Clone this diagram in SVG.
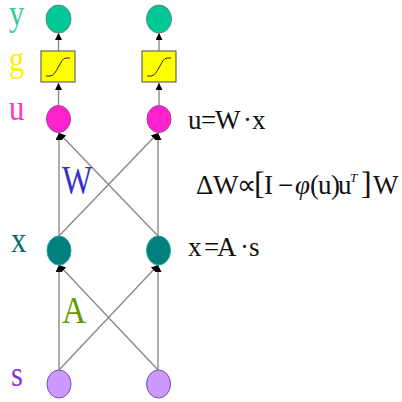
<svg xmlns="http://www.w3.org/2000/svg" width="402" height="402" viewBox="0 0 402 402">
<defs>
<marker id="ah" viewBox="0 0 10 10" refX="10" refY="5" markerWidth="7" markerHeight="7" orient="auto" markerUnits="userSpaceOnUse">
<path d="M0,0 L10,5 L0,10 z" fill="#000"/>
</marker>
<style>
.ln{stroke:#8a8a8a;stroke-width:1.4;fill:none;marker-end:url(#ah)}
.lbl{font-family:"Liberation Serif","Times New Roman",serif;font-size:36px}
.eq{font-family:"Liberation Serif","Times New Roman",serif;font-size:27px;fill:#111}
.ny{fill:#00c896;stroke:#5a8a7a;stroke-width:1}
.nu{fill:#ff22cc;stroke:#a04090;stroke-width:1}
.nx{fill:#007f7f;stroke:#2aa0a0;stroke-width:1}
.ns{fill:#cc99ff;stroke:#7a4aaa;stroke-width:1}
.box{fill:#ffff00;stroke:#666;stroke-width:1.2}
.sig{fill:none;stroke:#222;stroke-width:1}
</style>
</defs>
<rect width="402" height="402" fill="#fff"/>
<g id="connectors">
<line class="ln" x1="59" y1="370" x2="59" y2="265"/>
<line class="ln" x1="59" y1="370" x2="158" y2="265"/>
<line class="ln" x1="158" y1="370" x2="59" y2="265"/>
<line class="ln" x1="158" y1="370" x2="158" y2="265"/>
<line class="ln" x1="59" y1="236" x2="59" y2="133"/>
<line class="ln" x1="59" y1="236" x2="158" y2="133"/>
<line class="ln" x1="158" y1="236" x2="59" y2="133"/>
<line class="ln" x1="158" y1="236" x2="158" y2="133"/>
<line class="ln" x1="58.5" y1="105" x2="58.5" y2="83"/>
<line class="ln" x1="159" y1="105" x2="159" y2="83"/>
<line class="ln" x1="58.5" y1="51" x2="58.5" y2="33"/>
<line class="ln" x1="159" y1="51" x2="159" y2="33"/>
</g>
<g id="y1"><ellipse class="ny" cx="58.5" cy="19" rx="12.5" ry="14"/></g>
<g id="y2"><ellipse class="ny" cx="159" cy="19" rx="12.5" ry="14"/></g>
<g id="g1"><rect class="box" x="41" y="51" width="34" height="31"/><path class="sig" d="M46,76 L50,76 C57,76 60,58 66,58 L70,58"/></g>
<g id="g2"><rect class="box" x="142" y="51" width="34" height="31"/><path class="sig" d="M147,76 L151,76 C158,76 161,58 167,58 L171,58"/></g>
<g id="u1"><ellipse class="nu" cx="58.5" cy="119" rx="12" ry="13.5"/></g>
<g id="u2"><ellipse class="nu" cx="159" cy="119" rx="12" ry="13.5"/></g>
<g id="x1"><ellipse class="nx" cx="59" cy="250.5" rx="12" ry="14.5"/></g>
<g id="x2"><ellipse class="nx" cx="158.5" cy="250.5" rx="12" ry="14.5"/></g>
<g id="s1"><ellipse class="ns" cx="59" cy="384" rx="12" ry="14"/></g>
<g id="s2"><ellipse class="ns" cx="158.5" cy="384" rx="12" ry="14"/></g>
<g id="labels">
<text class="lbl" fill="#33cc99" transform="translate(9,25) scale(0.85,1)">y</text>
<text class="lbl" fill="#ffee00" transform="translate(9,71) scale(0.85,1)">g</text>
<text class="lbl" fill="#ff33cc" transform="translate(9,120) scale(0.85,1)">u</text>
<text class="lbl" fill="#006b6b" transform="translate(11,252) scale(0.85,1)">x</text>
<text class="lbl" fill="#8833cc" transform="translate(11,386) scale(0.85,1)">s</text>
<text class="lbl" fill="#3333cc" style="font-size:40px" transform="translate(62,193) scale(0.8,1)">W</text>
<text class="lbl" fill="#669900" style="font-size:37px" transform="translate(62,323) scale(0.9,1)">A</text>
<text class="eq" x="188 201 215 243 252" y="129">u=W·x</text>
<text class="eq" y="194"><tspan x="196">Δ</tspan><tspan x="213">W</tspan><tspan x="237">∝</tspan><tspan x="254" style="font-size:32px">[</tspan><tspan x="264">I</tspan><tspan x="278">−</tspan><tspan x="295" style="font-style:italic">φ</tspan><tspan x="310">(</tspan><tspan x="318">u</tspan><tspan x="331">)</tspan><tspan x="338">u</tspan><tspan x="350" y="182" style="font-size:13px;font-style:italic">T</tspan><tspan x="361" y="194" style="font-size:32px">]</tspan><tspan x="373">W</tspan></text>
<text class="eq" x="188 204 217 240 249" y="256">x=A·s</text>
</g>
</svg>
